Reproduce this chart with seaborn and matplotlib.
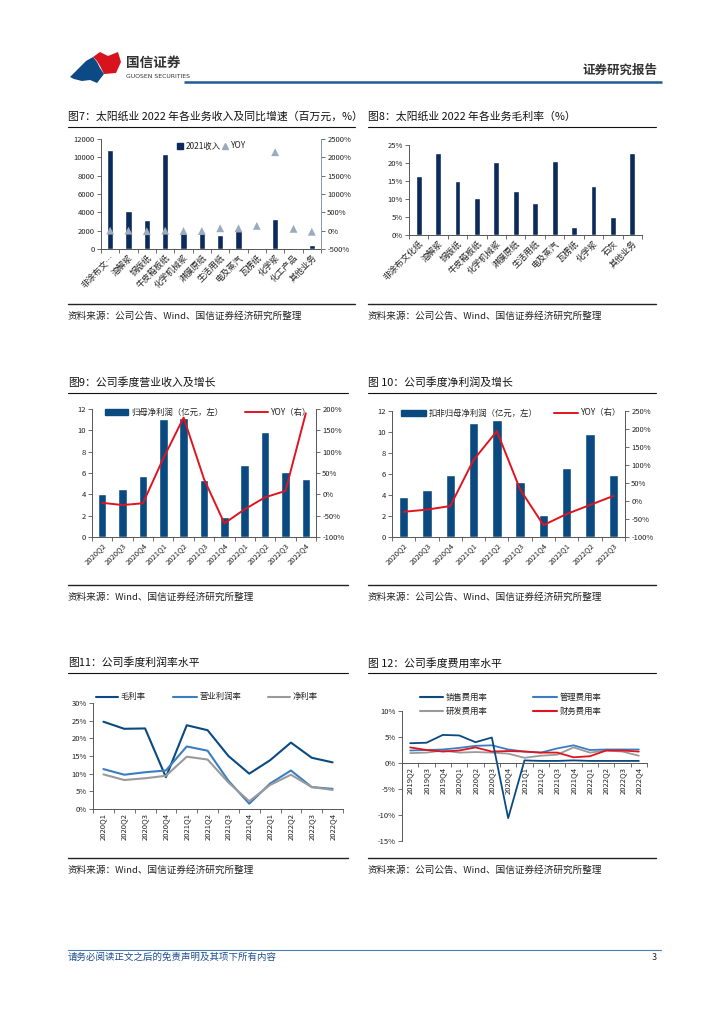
import numpy as np
import pandas as pd
import matplotlib
matplotlib.use('Agg')
import matplotlib.pyplot as plt
import seaborn as sns
from matplotlib.patches import Patch, Polygon
from matplotlib.lines import Line2D

# ---------------- data ----------------
cats7 = ['非涂布文…', '溶解浆', '铜版纸', '牛皮箱板纸', '化学机械浆', '淋膜原纸',
         '生活用纸', '电及蒸汽', '瓦楞纸', '化学浆', '化工产品', '其他业务']
rev7 = [10800, 4150, 3200, 10350, 1800, 1700, 1550, 2000, np.nan, 3300, np.nan, 450]
yoy7 = [0, 0, -15, 0, -10, -10, 65, 65, 130, 2140, 50, -30]

cats8 = ['非涂布文化纸', '溶解浆', '铜版纸', '牛皮箱板纸', '化学机械浆', '淋膜原纸',
         '生活用纸', '电及蒸汽', '瓦楞纸', '化学浆', '石灰', '其他业务']
gm8 = [16.4, 22.8, 15.1, 10.2, 20.3, 12.2, 9.0, 20.5, 2.2, 13.7, 5.1, 22.9]

q9 = ['2020Q2', '2020Q3', '2020Q4', '2021Q1', '2021Q2', '2021Q3', '2021Q4',
      '2022Q1', '2022Q2', '2022Q3', '2022Q4']
np9 = [4.0, 4.5, 5.7, 11.05, 11.2, 5.35, 1.9, 6.75, 9.8, 6.05, 5.45]
yoy9 = [-20, -25, -21, 84, 180, 36, -68, -35, -7, 8, 190]

q10 = ['2020Q2', '2020Q3', '2020Q4', '2021Q1', '2021Q2', '2021Q3', '2021Q4',
       '2022Q1', '2022Q2', '2022Q3']
np10 = [3.8, 4.5, 5.9, 10.9, 11.1, 5.25, 2.05, 6.55, 9.8, 5.9]
yoy10 = [-30, -24, -14, 114, 194, 32, -67, -36, -11, 14]

q11 = ['2020Q1', '2020Q2', '2020Q3', '2020Q4', '2021Q1', '2021Q2', '2021Q3', '2021Q4',
       '2022Q1', '2022Q2', '2022Q3', '2022Q4']
gross11 = [24.7, 22.7, 22.8, 9.0, 23.7, 22.3, 15.0, 10.0, 13.8, 18.8, 14.5, 13.2]
oper11 = [11.3, 9.7, 10.4, 10.9, 17.7, 16.5, 8.0, 1.5, 7.2, 10.9, 6.2, 5.7]
net11 = [9.8, 8.2, 8.7, 9.4, 14.8, 14.0, 7.5, 2.2, 6.8, 9.7, 6.2, 5.4]

q12 = ['2019Q2', '2019Q3', '2019Q4', '2020Q1', '2020Q2', '2020Q3', '2020Q4', '2021Q1',
       '2021Q2', '2021Q3', '2021Q4', '2022Q1', '2022Q2', '2022Q3', '2022Q4']
sell12 = [3.8, 3.9, 5.4, 5.3, 4.0, 4.9, -10.6, 0.5, 0.4, 0.4, 0.5, 0.4, 0.4, 0.4, 0.4]
admin12 = [2.4, 2.5, 2.6, 2.9, 3.3, 3.4, 2.6, 2.2, 2.0, 2.8, 3.4, 2.5, 2.6, 2.6, 2.6]
rd12 = [1.9, 2.0, 2.4, 2.0, 2.1, 2.0, 1.8, 1.0, 1.4, 1.6, 3.0, 2.0, 2.4, 2.2, 1.4]
fin12 = [3.0, 2.5, 2.2, 2.4, 3.0, 2.2, 2.3, 2.2, 2.0, 2.0, 1.1, 1.3, 2.4, 2.4, 2.2]

yt7l = [0, 2000, 4000, 6000, 8000, 10000, 12000]
yt7r = [-500, 0, 500, 1000, 1500, 2000, 2500]
yt8 = [0, 5, 10, 15, 20, 25]
yt9l = [0, 2, 4, 6, 8, 10, 12]
yt9r = [-100, -50, 0, 50, 100, 150, 200]
yt10r = [-100, -50, 0, 50, 100, 150, 200, 250]
yt11 = [0, 5, 10, 15, 20, 25, 30]
yt12 = [-15, -10, -5, 0, 5, 10]

# ---------------- style ----------------
sns.set_style('ticks')
plt.rcParams['font.family'] = ['Noto Sans CJK SC', 'DejaVu Sans']
plt.rcParams['axes.unicode_minus'] = False

NAVY = '#0c2a5a'
BLUE = '#0b4a80'
RED = '#e0141e'
MID = '#3b7dc0'
GREY = '#9a9a9a'
AXC = '#555555'
TXT = '#222222'
TS = 5.5

W, H = 724, 1024
fig = plt.figure(figsize=(7.24, 10.24), dpi=100)


def rect(x0, y0, x1, y1):
    return [x0 / W, 1 - y1 / H, (x1 - x0) / W, (y1 - y0) / H]


bg = fig.add_axes([0, 0, 1, 1])
bg.set_xlim(0, W)
bg.set_ylim(H, 0)
bg.axis('off')

# header
bg.add_patch(Polygon([(93, 57), (100, 52), (108, 56), (118, 52), (121, 62), (116, 73),
                      (104, 74), (100, 66), (97, 61)], closed=True, color='#d7141e', lw=0))
bg.add_patch(Polygon([(70, 77), (86, 61), (93, 57), (97, 62), (100, 68), (104, 74),
                      (97, 83), (90, 80), (82, 81), (74, 79)], closed=True, color='#0d4a85', lw=0))
bg.text(126, 63, '国信证券', fontsize=9.8, fontweight='bold', color='#333333', va='center')
bg.text(126, 77, 'GUOSEN SECURITIES', fontsize=4.4, color='#333333', va='center',
        family='DejaVu Sans')
bg.text(657, 70, '证券研究报告', fontsize=9, fontweight='bold', color='#333333',
        va='center', ha='right')
bg.plot([184, 662], [82, 82], color='#1f5a96', lw=1.8, solid_capstyle='butt')

# footer
bg.plot([68, 661], [950, 950], color='#4a7fb5', lw=0.8)
bg.text(68, 957, '请务必阅读正文之后的免责声明及其项下所有内容', fontsize=6.8,
        color='#1f4e8c', va='center')
bg.text(657, 958, '3', fontsize=6.5, color='#222222', va='center', ha='right')


def title(x, y, x1, s):
    bg.text(x, y, s, fontsize=7.8, va='center', color='#111111')
    bg.plot([x, x1], [y + 9.5, y + 9.5], color='#111111', lw=0.8)


def source(x, y, x1, s):
    bg.plot([x, x1], [y - 12, y - 12], color='#222222', lw=1.0)
    bg.text(x, y, s, fontsize=6.9, va='center', color='#222222')


SRC1 = '资料来源：公司公告、Wind、国信证券经济研究所整理'
SRC2 = '资料来源：Wind、国信证券经济研究所整理'

title(68, 117, 355, '图7：太阳纸业 2022 年各业务收入及同比增速（百万元，%）')
title(368, 117, 656, '图8：太阳纸业 2022 年各业务毛利率（%）')
title(68, 383, 348, '图9：公司季度营业收入及增长')
title(368, 383, 656, '图 10：公司季度净利润及增长')
title(68, 663, 348, '图11：公司季度利润率水平')
title(368, 663, 656, '图 12：公司季度费用率水平')
source(68, 316, 355, SRC1)
source(368, 316, 656, SRC1)
source(68, 597, 348, SRC2)
source(368, 597, 656, SRC1)
source(68, 870, 348, SRC2)
source(368, 870, 656, SRC1)


def leg(handle, label, x, y, hl_px, fs=6.0):
    fig.legend([handle], [label], loc='center left',
               bbox_to_anchor=(x / W, 1 - y / H), frameon=False, borderpad=0,
               borderaxespad=0, handlelength=hl_px / (fs * 100 / 72),
               handletextpad=0.35, fontsize=fs, labelcolor=TXT)


def style_ax(ax, sides=('left', 'bottom')):
    for s in ['left', 'right', 'top', 'bottom']:
        ax.spines[s].set_visible(s in sides)
        ax.spines[s].set_color(AXC)
        ax.spines[s].set_linewidth(0.7)
    ax.tick_params(labelsize=TS, length=3, width=0.6, pad=1.5, colors=AXC,
                   labelcolor=TXT)
    ax.set_xlabel('')
    ax.set_ylabel('')


def cat_ticks(ax, labels, rot=45, fs=TS):
    n = len(labels)
    ax.set_xlim(-0.5, n - 0.5)
    ax.set_xticks(range(n))
    if rot == 90:
        ax.set_xticklabels(labels, rotation=90, ha='center', va='top', fontsize=fs)
    else:
        ax.set_xticklabels(labels, rotation=rot, ha='right', va='top',
                           rotation_mode='anchor', fontsize=fs)
    ax.set_xticks(np.arange(-0.5, n, 1), minor=True)
    ax.tick_params(axis='x', which='major', length=0, pad=3)
    ax.tick_params(axis='x', which='minor', length=3, width=0.6, colors=AXC)


# ---------------- chart 7 ----------------
ax = fig.add_axes(rect(101, 139, 321, 249))
df7 = pd.DataFrame({'cat': cats7, 'rev': rev7})
sns.barplot(data=df7, x='cat', y='rev', order=cats7, color=NAVY, saturation=1,
            width=0.36, ax=ax)
style_ax(ax, ('left', 'bottom'))
ax.set_ylim(0, 12000)
ax.set_yticks(yt7l)
cat_ticks(ax, cats7, 45, 6.2)
ax2 = ax.twinx()
sns.scatterplot(x=np.arange(len(yoy7)), y=yoy7, marker='^', s=32, color='#9aabbd',
                edgecolor='none', ax=ax2, zorder=3)
style_ax(ax2, ('right',))
ax2.spines['right'].set_color('#8797a8')
ax2.set_ylim(-500, 2500)
ax2.set_yticks(yt7r)
ax2.set_yticklabels([f'{v}%' for v in yt7r])
leg(Patch(color=NAVY), '2021收入', 177, 146, 6)
leg(Line2D([], [], marker='^', color='#9aabbd', ls='none', markersize=5), 'YOY', 222, 146, 6)

# ---------------- chart 8 ----------------
ax = fig.add_axes(rect(409, 145, 642, 235))
df8 = pd.DataFrame({'cat': cats8, 'gm': gm8})
sns.barplot(data=df8, x='cat', y='gm', order=cats8, color=NAVY, saturation=1,
            width=0.3, ax=ax)
style_ax(ax, ('left', 'bottom'))
ax.set_ylim(0, 25)
ax.set_yticks(yt8)
ax.set_yticklabels([f'{v}%' for v in yt8])
cat_ticks(ax, cats8, 45, 6.2)

# ---------------- chart 9 ----------------
ax = fig.add_axes(rect(92, 409, 316, 537))
df9 = pd.DataFrame({'q': q9, 'v': np9})
sns.barplot(data=df9, x='q', y='v', order=q9, color=BLUE, saturation=1, width=0.42, ax=ax)
style_ax(ax, ('left', 'bottom'))
ax.set_ylim(0, 12)
ax.set_yticks(yt9l)
cat_ticks(ax, q9, 45)
ax2 = ax.twinx()
sns.lineplot(x=np.arange(len(yoy9)), y=yoy9, color=RED, linewidth=1.4, ax=ax2)
style_ax(ax2, ('right',))
ax2.set_ylim(-100, 200)
ax2.set_yticks(yt9r)
ax2.set_yticklabels([f'{v}%' for v in yt9r])
leg(Patch(color=BLUE), '归母净利润（亿元，左）', 105, 412, 23)
leg(Line2D([], [], color=RED, lw=1.4), 'YOY（右）', 245, 412, 23)

# ---------------- chart 10 ----------------
ax = fig.add_axes(rect(392, 411, 625, 537))
df10 = pd.DataFrame({'q': q10, 'v': np10})
sns.barplot(data=df10, x='q', y='v', order=q10, color=BLUE, saturation=1, width=0.4, ax=ax)
style_ax(ax, ('left', 'bottom'))
ax.set_ylim(0, 12)
ax.set_yticks(yt9l)
cat_ticks(ax, q10, 45)
ax2 = ax.twinx()
sns.lineplot(x=np.arange(len(yoy10)), y=yoy10, color=RED, linewidth=1.4, ax=ax2)
style_ax(ax2, ('right',))
ax2.set_ylim(-100, 250)
ax2.set_yticks(yt10r)
ax2.set_yticklabels([f'{v}%' for v in yt10r])
leg(Patch(color=BLUE), '扣非归母净利润（亿元，左）', 401, 413, 25)
leg(Line2D([], [], color=RED, lw=1.4), 'YOY（右）', 554, 413, 24)

# ---------------- chart 11 ----------------
ax = fig.add_axes(rect(93, 703, 343, 809))
x11 = np.arange(len(q11))
sns.lineplot(x=x11, y=gross11, color=BLUE, linewidth=1.5, ax=ax)
sns.lineplot(x=x11, y=oper11, color=MID, linewidth=1.5, ax=ax)
sns.lineplot(x=x11, y=net11, color=GREY, linewidth=1.5, ax=ax)
style_ax(ax, ('left', 'bottom'))
ax.set_ylim(0, 30)
ax.set_yticks(yt11)
ax.set_yticklabels([f'{v}%' for v in yt11])
cat_ticks(ax, q11, 90)
leg(Line2D([], [], color=BLUE, lw=1.5), '毛利率', 96, 697, 22)
leg(Line2D([], [], color=MID, lw=1.5), '营业利润率', 173, 697, 24)
leg(Line2D([], [], color=GREY, lw=1.5), '净利率', 268, 697, 22)

# ---------------- chart 12 ----------------
ax = fig.add_axes(rect(402, 711, 647, 841))
x12 = np.arange(len(q12))
sns.lineplot(x=x12, y=rd12, color=GREY, linewidth=1.3, ax=ax)
sns.lineplot(x=x12, y=admin12, color=MID, linewidth=1.3, ax=ax)
sns.lineplot(x=x12, y=fin12, color=RED, linewidth=1.3, ax=ax)
sns.lineplot(x=x12, y=sell12, color=BLUE, linewidth=1.3, ax=ax)
style_ax(ax, ('left', 'bottom'))
ax.spines['bottom'].set_position(('data', 0))
ax.set_ylim(-15, 10)
ax.set_yticks(yt12)
ax.set_yticklabels([f'{v}%' for v in yt12])
cat_ticks(ax, q12, 90)
leg(Line2D([], [], color=BLUE, lw=1.5), '销售费用率', 420, 697, 23)
leg(Line2D([], [], color=MID, lw=1.5), '管理费用率', 533, 697, 24)
leg(Line2D([], [], color=GREY, lw=1.5), '研发费用率', 420, 711, 23)
leg(Line2D([], [], color=RED, lw=1.5), '财务费用率', 533, 711, 24)

fig.savefig('out.png', dpi=100)
